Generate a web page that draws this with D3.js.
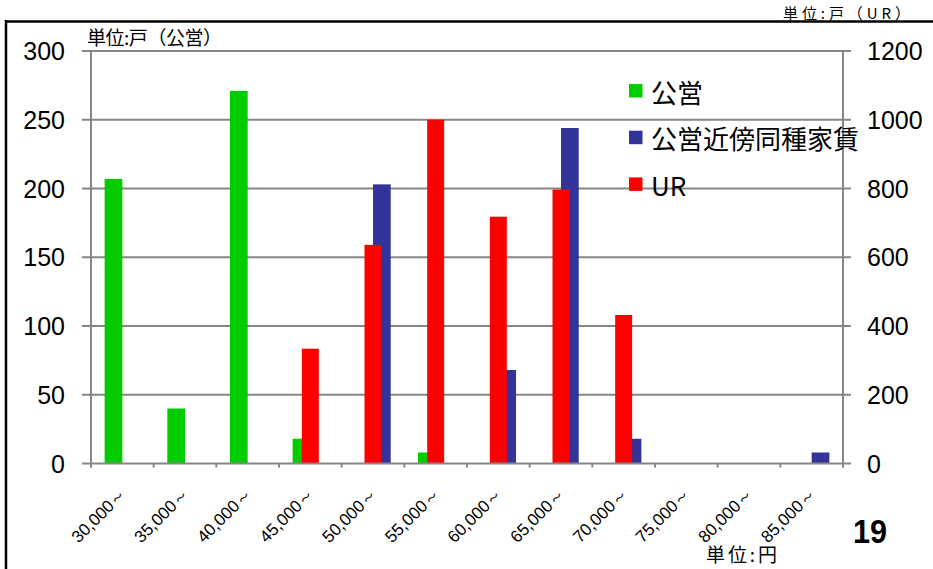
<!DOCTYPE html>
<html>
<head>
<meta charset="utf-8">
<script src="https://cdn.jsdelivr.net/npm/d3@7"></script>
<style>
  html, body { margin: 0; padding: 0; background: #fff; }
  svg { display: block; }
  .num { font-family: "Liberation Sans", Arial, sans-serif; fill: #000; }
  .jp { font-family: "Noto Sans CJK JP", sans-serif; fill: #000; }
</style>
</head>
<body>
<svg id="chart" width="933" height="569"></svg>
<script>
// Rent bands (monthly rent, yen)
const categories = ["30,000～", "35,000～", "40,000～", "45,000～", "50,000～", "55,000～",
                    "60,000～", "65,000～", "70,000～", "75,000～", "80,000～", "85,000～"];
// Units per band — public housing and its nearby-equivalent rent (left axis)
const koueiValues  = [207, 40, 271, 18, 0, 8, 0, 0, 0, 0, 0, 0];
const kinbouValues = [0, 0, 0, 0, 203, 0, 68, 244, 18, 0, 0, 8];
// Units per band — UR housing (right axis)
const urValues     = [0, 0, 0, 334, 636, 1000, 718, 797, 432, 0, 0, 0];

const leftTicks  = [0, 50, 100, 150, 200, 250, 300];
const rightTicks = [0, 200, 400, 600, 800, 1000, 1200];

const seriesNames = ["公営", "公営近傍同種家賃", "UR"];
const colors = { kouei: "#00cc00", kinbou: "#333399", ur: "#ff0000" };
const grey = "#868686";

const svg = d3.select("#chart");
const L = 91, R = 843, T = 51, B = 463.5;

const x = d3.scaleBand().domain(categories).range([L, R]).padding(0);
const yLeft = d3.scaleLinear().domain([0, 300]).range([B, T]);
const yRight = d3.scaleLinear().domain([0, 1200]).range([B, T]);

// primary-axis pair inside each band
const inner = d3.scaleBand().domain(["kouei", "kinbou"]).range([0, x.bandwidth()])
  .paddingInner(0).paddingOuter(0.77);
const urWidth = 17;

// outer frame
svg.append("line").attr("x1", 6).attr("x2", 6).attr("y1", 20).attr("y2", 569)
  .attr("stroke", "#000").attr("stroke-width", 2.5);

// horizontal gridlines
svg.append("g").selectAll("line").data(leftTicks.filter(d => d > 0)).join("line")
  .attr("x1", L).attr("x2", R)
  .attr("y1", d => yLeft(d)).attr("y2", d => yLeft(d))
  .attr("stroke", grey).attr("stroke-width", 2);

// bars: 公営
svg.append("g").selectAll("rect").data(categories.map((c, i) => ({ c, v: koueiValues[i] })).filter(d => d.v > 0))
  .join("rect")
  .attr("x", d => x(d.c) + inner("kouei"))
  .attr("width", inner.bandwidth())
  .attr("y", d => yLeft(d.v))
  .attr("height", d => yLeft(0) - yLeft(d.v))
  .attr("fill", colors.kouei);

// bars: 公営近傍同種家賃
svg.append("g").selectAll("rect").data(categories.map((c, i) => ({ c, v: kinbouValues[i] })).filter(d => d.v > 0))
  .join("rect")
  .attr("x", d => x(d.c) + inner("kinbou"))
  .attr("width", inner.bandwidth())
  .attr("y", d => yLeft(d.v))
  .attr("height", d => yLeft(0) - yLeft(d.v))
  .attr("fill", colors.kinbou);

// bars: UR (secondary axis, drawn on top)
svg.append("g").selectAll("rect").data(categories.map((c, i) => ({ c, v: urValues[i] })).filter(d => d.v > 0))
  .join("rect")
  .attr("x", d => x(d.c) + x.bandwidth() / 2 - urWidth / 2)
  .attr("width", urWidth)
  .attr("y", d => yRight(d.v))
  .attr("height", d => yRight(0) - yRight(d.v))
  .attr("fill", colors.ur);

// axes lines
const axisG = svg.append("g").attr("stroke", grey).attr("stroke-width", 2);
axisG.append("line").attr("x1", L).attr("x2", L).attr("y1", T).attr("y2", B + 4);
axisG.append("line").attr("x1", R).attr("x2", R).attr("y1", T).attr("y2", B + 4);
axisG.append("line").attr("x1", L - 1).attr("x2", R + 1).attr("y1", B).attr("y2", B);

// left ticks and labels
axisG.selectAll(".lt").data(leftTicks).join("line").attr("class", "lt")
  .attr("x1", L - 9).attr("x2", L).attr("y1", d => yLeft(d)).attr("y2", d => yLeft(d));
svg.append("g").selectAll("text").data(leftTicks).join("text")
  .attr("class", "num")
  .attr("x", 65).attr("y", d => yLeft(d))
  .attr("dy", "0.36em")
  .attr("text-anchor", "end")
  .attr("font-size", 25)
  .text(d => d);

// right ticks and labels
axisG.selectAll(".rt").data(rightTicks).join("line").attr("class", "rt")
  .attr("x1", R).attr("x2", R + 8).attr("y1", d => yRight(d)).attr("y2", d => yRight(d));
svg.append("g").selectAll("text").data(rightTicks).join("text")
  .attr("class", "num")
  .attr("x", 867).attr("y", d => yRight(d))
  .attr("dy", "0.36em")
  .attr("text-anchor", "start")
  .attr("font-size", 25)
  .text(d => d);

// category ticks at band boundaries
const bounds = categories.map(c => x(c)).concat([R]);
axisG.selectAll(".xt").data(bounds).join("line").attr("class", "xt")
  .attr("x1", d => d).attr("x2", d => d).attr("y1", B).attr("y2", B + 4);

// rotated category labels
svg.append("g").selectAll("text").data(categories).join("text")
  .attr("class", "num")
  .attr("font-size", 17)
  .attr("text-anchor", "end")
  .attr("transform", d => `translate(${x(d) + x.bandwidth() / 2 + 5},495) rotate(-45)`)
  .text(d => d);

// unit captions
svg.append("text").attr("class", "jp").attr("x", 87).attr("y", 45).attr("font-size", 19)
  .attr("textLength", 135).attr("lengthAdjust", "spacing").text("単位:戸（公営）");
svg.append("text").attr("class", "jp").attr("x", 783).attr("y", 19).attr("font-size", 15)
  .attr("textLength", 127).attr("lengthAdjust", "spacing").text("単位:戸（UR）");
svg.append("text").attr("class", "jp").attr("x", 706).attr("y", 562).attr("font-size", 19)
  .attr("textLength", 71).attr("lengthAdjust", "spacing").text("単位:円");

// header rule
svg.append("line").attr("x1", 5).attr("x2", 933).attr("y1", 21.5).attr("y2", 21.5)
  .attr("stroke", "#000").attr("stroke-width", 2.5);

// page number
svg.append("text").attr("class", "num").attr("x", 853).attr("y", 543)
  .attr("font-size", 34).attr("font-weight", "bold")
  .attr("textLength", 34).attr("lengthAdjust", "spacingAndGlyphs")
  .text("19");

// legend
const legendColors = [colors.kouei, colors.kinbou, colors.ur];
const legendY = [91, 137.7, 184.4];
const lg = svg.append("g");
lg.selectAll("rect").data(seriesNames).join("rect")
  .attr("x", 629).attr("y", (d, i) => legendY[i] - 7)
  .attr("width", 13.5).attr("height", 13.5)
  .attr("fill", (d, i) => legendColors[i]);
lg.selectAll("text").data(seriesNames).join("text")
  .attr("class", "jp")
  .attr("x", 651).attr("y", (d, i) => legendY[i])
  .attr("dominant-baseline", "central")
  .attr("font-size", 26)
  .text(d => d);
</script>
</body>
</html>
